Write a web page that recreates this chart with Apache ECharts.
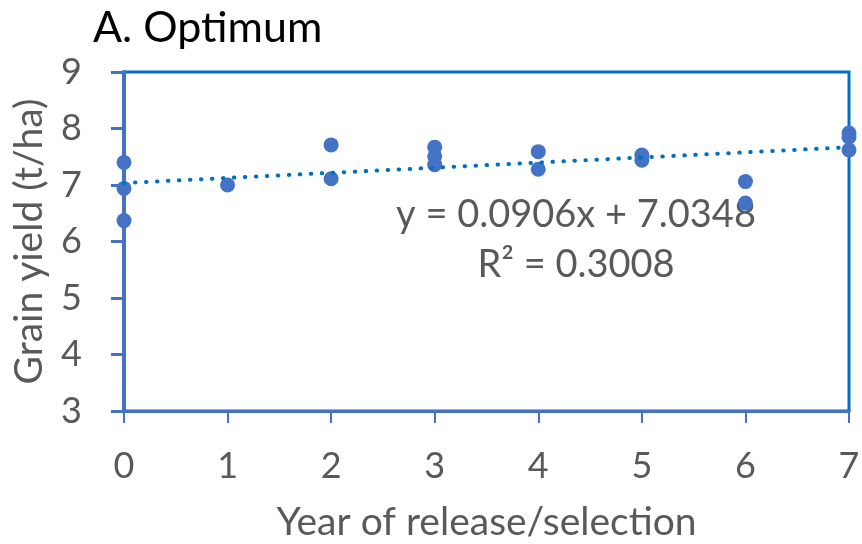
<!DOCTYPE html>
<html><head><meta charset="utf-8">
<script src="https://cdn.jsdelivr.net/npm/echarts@6/dist/echarts.min.js"></script>
<style>html,body{margin:0;padding:0;background:#fff}#c{width:862px;height:544px}</style>
</head><body><div id="c"></div>
<script>
const xValues = [0,0,0,1,2,2,3,3,3,4,4,5,5,6,6,7,7,7];
const yValues = [7.40,6.94,6.37,7.00,7.71,7.11,7.67,7.51,7.36,7.59,7.28,7.53,7.44,7.06,6.68,7.92,7.85,7.62];
const trendX = [0,7];
const trendY = [7.0348,7.6690];
const xTicks = [0,1,2,3,4,5,6,7];
const yTicks = [3,4,5,6,7,8,9];
const titleText = 'A. Optimum';
const eqLine1 = 'y = 0.0906x + 7.0348';
const eqLine2 = 'R\u00B2 = 0.3008';

const font = 'Lato, "Open Sans", sans-serif';
const chart = echarts.init(document.getElementById('c'));
chart.setOption({
  animation:false,
  title:{text:titleText,left:88,top:2,textStyle:{color:'#000',fontSize:43,fontWeight:'normal',fontFamily:font}},
  grid:{left:124,right:13,top:72,bottom:133,show:true,borderColor:'#0070C0',borderWidth:3,containLabel:false,outerBoundsMode:'none'},
  xAxis:{type:'value',min:0,max:7,interval:1,
    name:'Year of release/selection',nameLocation:'middle',nameGap:92,
    nameTextStyle:{color:'#595959',fontSize:39,fontFamily:font},
    axisLine:{lineStyle:{color:'#4472C4',width:3}},
    axisTick:{show:true,length:12,lineStyle:{color:'#4472C4',width:2}},
    axisLabel:{color:'#595959',fontSize:36,fontFamily:font,margin:37,formatter:v=>xTicks.includes(v)?String(v):''},
    splitLine:{show:false}},
  yAxis:{type:'value',min:3,max:9,interval:1,
    name:'Grain yield (t/ha)',nameLocation:'middle',nameGap:75,
    nameTextStyle:{color:'#595959',fontSize:39,fontFamily:font},
    axisLine:{lineStyle:{color:'#4472C4',width:4}},
    axisTick:{show:true,inside:false,length:13,lineStyle:{color:'#4472C4',width:3}},
    axisLabel:{color:'#595959',fontSize:36,fontFamily:font,margin:42,formatter:v=>yTicks.includes(v)?String(v):''},
    splitLine:{show:false}},
  graphic:[
    {type:'text',x:576,y:190,style:{text:eqLine1+'\n'+eqLine2,align:'center',verticalAlign:'top',fill:'#595959',font:'38px '+font,lineHeight:50}}
  ],
  series:[
    {type:'scatter',data:xValues.map((x,i)=>[x,yValues[i]]),symbolSize:15,itemStyle:{color:'#4472C4',opacity:1},z:2},
    {type:'line',data:trendX.map((x,i)=>[x,trendY[i]]),symbol:'none',z:3,
      lineStyle:{color:'#0070C0',width:4,type:[0.5,10.5],cap:'round'}}
  ]
});
</script></body></html>
